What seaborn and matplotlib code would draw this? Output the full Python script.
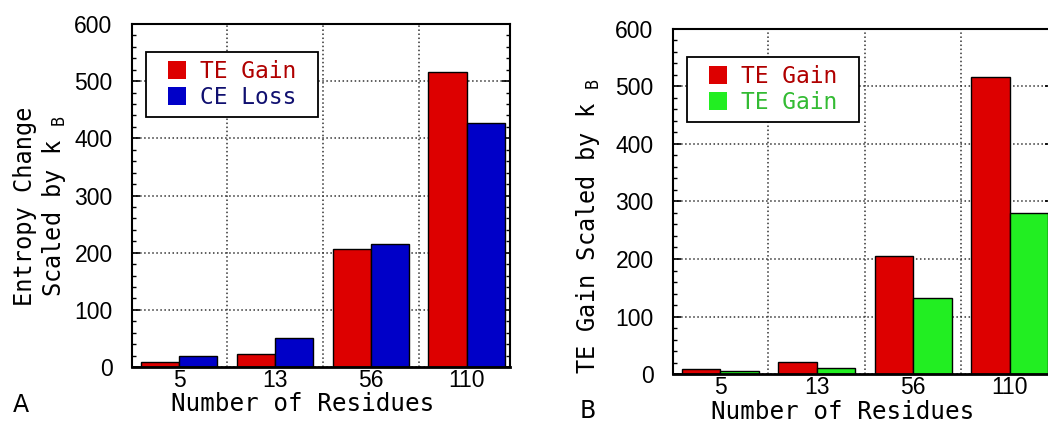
import matplotlib
matplotlib.use("Agg")
import matplotlib.pyplot as plt
from matplotlib.patches import Rectangle
from matplotlib.ticker import MultipleLocator, FixedLocator
import pandas as pd
import seaborn as sns

# data
residues = ["5", "13", "56", "110"]
te_gain_a = [8, 22, 206, 516]
ce_loss_a = [19, 50, 215, 427]
te_gain_b = [8, 21, 205, 516]
te_gain_b2 = [5, 10, 132, 280]

labels_a = ["TE Gain", "CE Loss"]
labels_b = ["TE Gain", "TE Gain"]

RED = "#dd0000"
BLUE = "#0000c8"
GREEN = "#22ee22"

sns.set_theme(style="white")
plt.rcParams["font.family"] = ["DejaVu Sans Mono", "DejaVu Sans"]
plt.rcParams["text.color"] = "black"
plt.rcParams["axes.labelcolor"] = "black"
plt.rcParams["xtick.color"] = "black"
plt.rcParams["ytick.color"] = "black"
NUM_FONT = ["Liberation Sans", "DejaVu Sans"]

dfA = pd.DataFrame({
    "Residues": residues * 2,
    "Value": te_gain_a + ce_loss_a,
    "Series": ["s1"] * 4 + ["s2"] * 4,
})
dfB = pd.DataFrame({
    "Residues": residues * 2,
    "Value": te_gain_b + te_gain_b2,
    "Series": ["s1"] * 4 + ["s2"] * 4,
})

fig = plt.figure(figsize=(10.48, 4.23), dpi=100)
axA = fig.add_axes([132 / 1048, 56 / 423, 378 / 1048, 343 / 423])
axB = fig.add_axes([673 / 1048, 49 / 423, 380 / 1048, 345 / 423])


def draw_panel(ax, df, colors, labels, text_colors):
    sns.barplot(data=df, x="Residues", y="Value", hue="Series", order=residues,
                palette=colors, edgecolor="black", linewidth=1, saturation=1,
                ax=ax)
    ax.set_xlim(-0.49, 3.45)
    ax.set_ylim(0, 600)
    ax.set_axisbelow(True)

    # ticks
    ax.yaxis.set_major_locator(MultipleLocator(100))
    ax.yaxis.set_minor_locator(MultipleLocator(20))
    ax.xaxis.set_minor_locator(FixedLocator([0.5, 1.5, 2.5]))
    ax.tick_params(axis="y", which="major", direction="in", length=6, width=1.2,
                   left=True, right=True, pad=14, labelsize=16.5)
    ax.tick_params(axis="y", which="minor", direction="in", length=3, width=1,
                   left=True, right=True)
    ax.tick_params(axis="x", which="major", length=0, pad=1.5, labelsize=16.5)
    ax.tick_params(axis="x", which="minor", length=0)
    for lab in ax.get_xticklabels() + ax.get_yticklabels():
        lab.set_family(NUM_FONT)

    ax.grid(axis="y", which="major", linestyle=":", color="#333333", linewidth=1.1)
    ax.grid(axis="x", which="minor", linestyle=":", color="#333333", linewidth=1.1)

    for s in ax.spines.values():
        s.set_visible(True)
        s.set_color("black")
        s.set_linewidth(1.5)
    ax.spines["bottom"].set_linewidth(2)

    ax.set_xlabel("Number of Residues", fontsize=17.5)

    handles, _ = ax.get_legend_handles_labels()
    leg = ax.legend(handles, labels, loc="upper left", bbox_to_anchor=(0.094, 0.895),
                    borderaxespad=0, frameon=False, fontsize=16.5,
                    handlelength=0.8, handleheight=0.8, handletextpad=0.6,
                    labelspacing=0.12, borderpad=0.0)
    for h in leg.legend_handles:
        h.set_edgecolor("none")
    for t, c in zip(leg.get_texts(), text_colors):
        t.set_color(c)
    return leg


def legend_frame(ax, leg, padx, pady):
    # white box with black edge drawn round the legend, padded in pixels
    fig.canvas.draw()
    bb = leg.get_window_extent()
    inv = ax.transAxes.inverted()
    (x0, y0), (x1, y1) = inv.transform([[bb.x0 - padx, bb.y0 - pady],
                                        [bb.x1 + padx, bb.y1 + pady]])
    ax.add_patch(Rectangle((x0, y0), x1 - x0, y1 - y0, transform=ax.transAxes,
                           facecolor="white", edgecolor="black", linewidth=1.3,
                           zorder=4.5, clip_on=False))


legA = draw_panel(axA, dfA, [RED, BLUE], labels_a, ["#b00000", "#101070"])
legB = draw_panel(axB, dfB, [RED, GREEN], labels_b, ["#b00000", "#33bb33"])

axA.set_ylabel("Entropy Change\nScaled by k $_\\mathregular{B}$", fontsize=17,
               linespacing=1.15)
axA.yaxis.set_label_coords(-0.169, 0.47)
axB.set_ylabel("TE Gain Scaled by k $_\\mathregular{B}$", fontsize=17)
axB.yaxis.set_label_coords(-0.187, 0.43)
axA.xaxis.set_label_coords(0.452, -0.074)
axB.xaxis.set_label_coords(0.447, -0.074)

fig.text(13 / 1048, 1 - 405 / 423, "A", fontsize=17, va="center", family="DejaVu Sans")
fig.text(580 / 1048, 1 - 411 / 423, "B", fontsize=17, va="center", family="DejaVu Sans")

legend_frame(axA, legA, 22, 8)
legend_frame(axB, legB, 22, 8)

fig.savefig("out.png", dpi=100, facecolor="white")
